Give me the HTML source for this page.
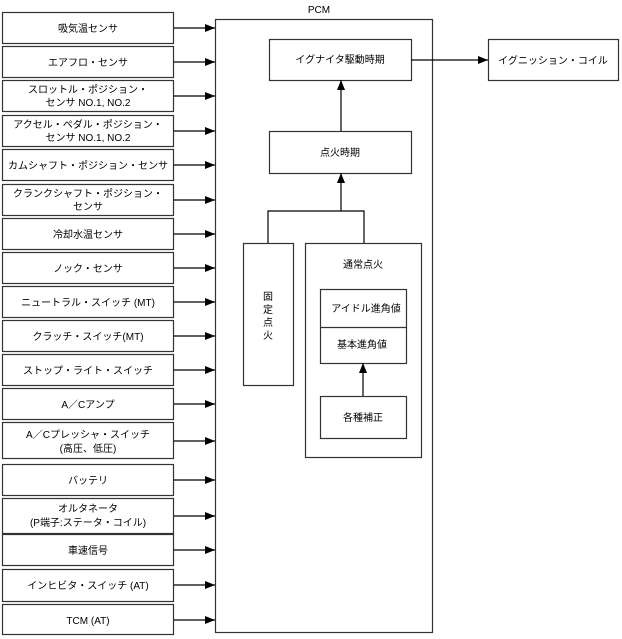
<!DOCTYPE html>
<html><head><meta charset="utf-8"><style>body{margin:0;background:#fff}svg{display:block}text{font-family:"Liberation Sans","Noto Sans CJK JP",sans-serif;font-size:10px;fill:#000}</style></head><body>
<svg width="622" height="639" viewBox="0 0 622 639" xmlns="http://www.w3.org/2000/svg">
<defs><marker id="a" markerWidth="10" markerHeight="8" refX="10" refY="4" orient="auto" markerUnits="userSpaceOnUse"><path d="M0,0 L10,4 L0,8 z" fill="#000"/></marker></defs>
<g fill="#fff" stroke="#333" stroke-width="1.2">
<rect x="2.5" y="12.5" width="171" height="31"/>
<rect x="2.5" y="46.5" width="171" height="31"/>
<rect x="2.5" y="80.5" width="171" height="31"/>
<rect x="2.5" y="115.5" width="171" height="31"/>
<rect x="2.5" y="149.5" width="171" height="31"/>
<rect x="2.5" y="184.5" width="171" height="31"/>
<rect x="2.5" y="218.5" width="171" height="31"/>
<rect x="2.5" y="252.5" width="171" height="31"/>
<rect x="2.5" y="286.5" width="171" height="31"/>
<rect x="2.5" y="320.5" width="171" height="31"/>
<rect x="2.5" y="354.5" width="171" height="31"/>
<rect x="2.5" y="388.5" width="171" height="31"/>
<rect x="2.5" y="422.5" width="171" height="36"/>
<rect x="2.5" y="464.5" width="171" height="31"/>
<rect x="2.5" y="498.5" width="171" height="35"/>
<rect x="2.5" y="534.5" width="171" height="31"/>
<rect x="2.5" y="569.5" width="171" height="32"/>
<rect x="2.5" y="604.5" width="171" height="30"/>
<rect x="215.5" y="19.5" width="217" height="613"/>
<rect x="269.5" y="39.5" width="142" height="41"/>
<rect x="488.5" y="39.5" width="130" height="41"/>
<rect x="269.5" y="131.5" width="142" height="42"/>
<rect x="243.5" y="243.5" width="50" height="142"/>
<rect x="305.5" y="243.5" width="116" height="214"/>
<rect x="320.5" y="289.5" width="86" height="74"/>
<rect x="320.5" y="396.5" width="86" height="42"/>
</g>
<g stroke="#000" stroke-width="1.2" fill="none">
<line x1="320" y1="327.5" x2="406" y2="327.5" stroke="#333"/>
<g marker-end="url(#a)">
<line x1="174" y1="28" x2="215" y2="28"/><line x1="174" y1="62" x2="215" y2="62"/><line x1="174" y1="96" x2="215" y2="96"/><line x1="174" y1="131" x2="215" y2="131"/><line x1="174" y1="165" x2="215" y2="165"/><line x1="174" y1="200" x2="215" y2="200"/><line x1="174" y1="234" x2="215" y2="234"/><line x1="174" y1="268" x2="215" y2="268"/><line x1="174" y1="302" x2="215" y2="302"/><line x1="174" y1="336" x2="215" y2="336"/><line x1="174" y1="370" x2="215" y2="370"/><line x1="174" y1="404" x2="215" y2="404"/><line x1="174" y1="441" x2="215" y2="441"/><line x1="174" y1="480" x2="215" y2="480"/><line x1="174" y1="516" x2="215" y2="516"/><line x1="174" y1="550" x2="215" y2="550"/><line x1="174" y1="585" x2="215" y2="585"/><line x1="174" y1="620" x2="215" y2="620"/>
<line x1="411" y1="60" x2="488" y2="60"/>
<line x1="341" y1="131" x2="341" y2="80"/>
<line x1="341" y1="211" x2="341" y2="173"/>
<line x1="363" y1="396" x2="363" y2="363"/>
</g>
<polyline points="268,243 268,211 364,211 364,243"/>
</g>
<g text-anchor="middle">
<text x="88" y="32">吸気温センサ</text>
<text x="88" y="66">エアフロ・センサ</text>
<text x="88" y="93">スロットル・ポジション・</text><text x="88" y="106">センサ NO.1, NO.2</text>
<text x="88" y="128">アクセル・ペダル・ポジション・</text><text x="88" y="141">センサ NO.1, NO.2</text>
<text x="88" y="169">カムシャフト・ポジション・センサ</text>
<text x="88" y="197">クランクシャフト・ポジション・</text><text x="88" y="210">センサ</text>
<text x="88" y="238">冷却水温センサ</text>
<text x="88" y="272">ノック・センサ</text>
<text x="88" y="306">ニュートラル・スイッチ (MT)</text>
<text x="88" y="340">クラッチ・スイッチ(MT)</text>
<text x="88" y="374">ストップ・ライト・スイッチ</text>
<text x="88" y="408">A／Cアンプ</text>
<text x="88" y="438">A／Cプレッシャ・スイッチ</text><text x="88" y="452">(高圧、低圧)</text>
<text x="88" y="484">バッテリ</text>
<text x="88" y="512">オルタネータ</text><text x="88" y="526">(P端子:ステータ・コイル)</text>
<text x="88" y="554">車速信号</text>
<text x="88" y="589">インヒビタ・スイッチ (AT)</text>
<text x="88" y="624">TCM (AT)</text>
<text x="319" y="13">PCM</text>
<text x="340" y="63">イグナイタ駆動時期</text>
<text x="553" y="64">イグニッション・コイル</text>
<text x="340" y="156">点火時期</text>
<text x="363" y="268">通常点火</text>
<text x="366" y="312">アイドル進角値</text>
<text x="362" y="348">基本進角値</text>
<text x="363" y="421">各種補正</text>
<text x="268" y="300">固</text><text x="268" y="313">定</text><text x="268" y="326">点</text><text x="268" y="339">火</text>
</g>
</svg>
</body></html>
